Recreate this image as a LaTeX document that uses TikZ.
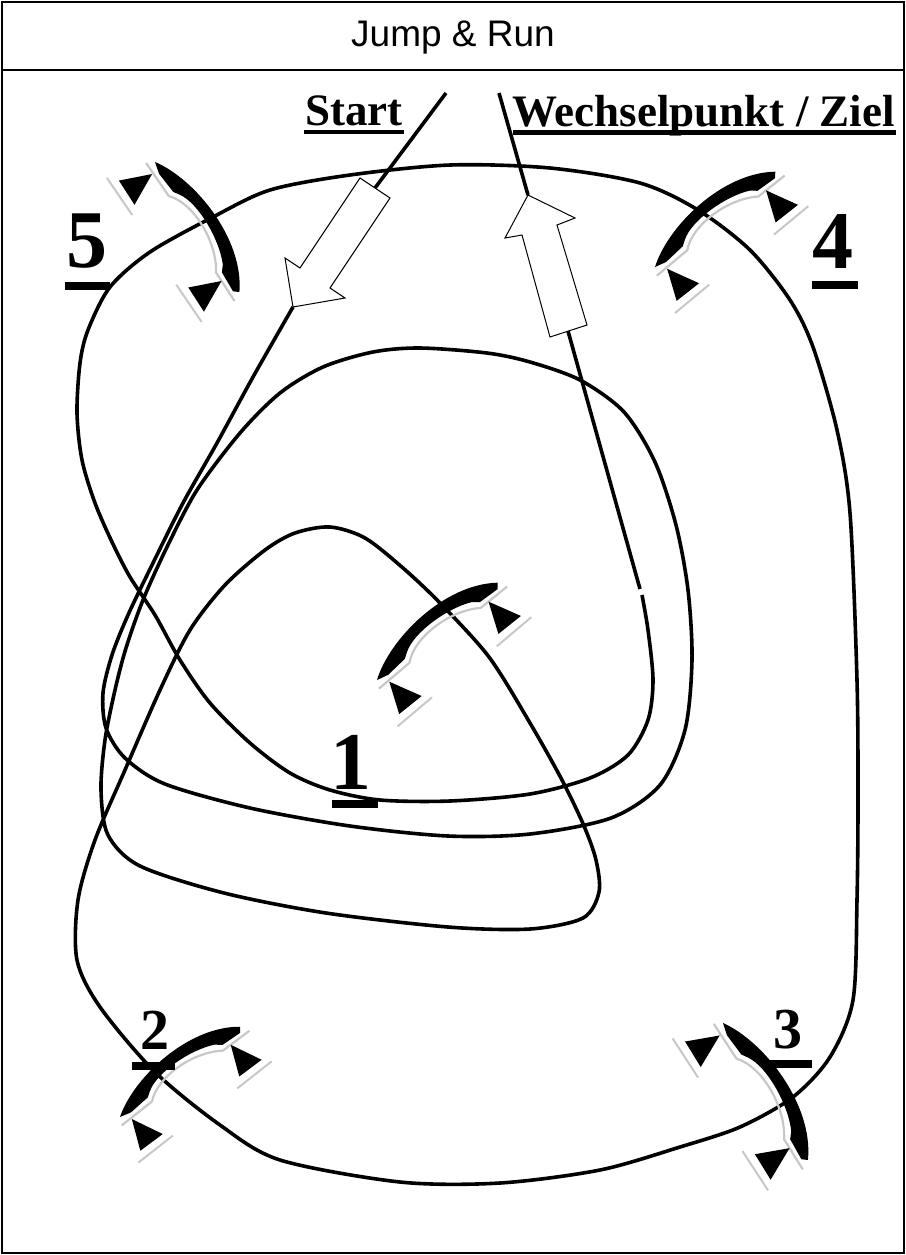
\documentclass[tikz,border=0pt]{standalone}
\usepackage{fontspec}
\setmainfont{Liberation Serif}
\newfontfamily\arialf{Liberation Sans}
\definecolor{shadowgray}{RGB}{200,200,200}
\newcommand{\rampsym}{%
  \draw[draw=shadowgray, line width=1.1pt, line join=round] (-4,8) -- (36,7) .. controls (55,-10) and (100,-9) .. (126,9) -- (160,9);
  \fill[black] (0,0) .. controls (35,-24) and (112,-33) .. (155,0) -- (151,5) -- (129,4) -- (123,-1) .. controls (100,-12) and (58,-14) .. (41,-3) -- (35,1) -- (12,3) -- cycle;
  \foreach \s in {0,127.5}{%
    \begin{scope}[shift={(\s,0)}]
      \draw[draw=shadowgray, line width=1pt] (-13,49) -- (32,48);
      \fill[black] (8.5,9) -- (24.7,40.5) -- (-4.1,40.4) -- cycle;
    \end{scope}}%
}
\begin{document}
\begin{tikzpicture}[x=0.5pt,y=-0.5pt,
  route/.style={line width=1.8pt, line join=round, line cap=butt},
  hollow/.style={draw, line width=0.5pt, fill=white, line join=miter},
  bigdigit/.style={inner sep=0pt, font=\fontsize{41}{41}\selectfont\bfseries},
  smalldigit/.style={inner sep=0pt, font=\fontsize{29}{29}\selectfont\bfseries},
  lbltext/.style={inner sep=0pt, anchor=base west, font=\fontsize{22.5}{22.5}\selectfont\bfseries}]
\useasboundingbox (0,0) rectangle (906,1255);
\fill[white] (0,0) rectangle (906,1255);
\draw[line width=1.2pt] (2,2) rectangle (904,1253);
\draw[line width=1.2pt] (2,70) -- (904,70);
\node (title) at (453,38) {\arialf\fontsize{18.5}{18.5}\selectfont Jump \& Run};

% route
\draw[route] (446,93) -- (375,188);
\draw[route] plot[smooth, tension=0.5] coordinates {
(293,307) (253,377) (217,443) (183,503) (153,563) (128,615) (112,655) (103,693) (106,728) (125,758) (165,784) (250,808) (350,826) (448,836) (530,834) (611,818) (660,785) (685,730) (692,660) (688,590) (676,525) (655,462) (624,412) (580,380) (530,362) (487,353) (420,348) (373,352) (323,367) (280,393) (240,433) (197,490) (167,547) (143,600) (126,648) (115,690) (105,740) (101,790) (108,835) (140,866) (224,893) (326,913) (448,927) (530,929) (583,918) (599,892) (596,860) (584,826) (562,780) (530,723) (489,657) (440,603) (403,568) (365,538) (330,527) (295,533) (265,550) (225,585) (190,630) (160,690) (125,770) (95,840) (78,900) (77,960) (100,1007) (155,1072) (220,1125) (280,1160) (400,1182) (500,1183) (600,1170) (680,1147) (740,1127) (793,1097) (830,1057) (853,1000) (857,900) (858,800) (857,680) (850,513) (837,430) (813,347) (790,300) (750,250) (698,210) (640,183) (550,168) (450,165) (350,175) (270,190) (213,217) (150,252) (110,287) (88,330) (80,363) (77,413) (82,460) (95,503) (112,542) (130,577) (155,615) (180,660) (210,703) (250,743) (290,773) (330,790) (380,800) (450,801) (530,794) (590,778) (628,755) (648,720) (653,680) (648,630) (642,595)};
\draw[route] (640,589) -- (568,331);
\draw[route] (528,195) -- (499,93);

% hollow arrows
\draw[hollow] (360,178) -- (390,198) -- (330,288) -- (345,298) -- (293,307) -- (285,258) -- (300,268) -- cycle;
\draw[hollow] (550,337) -- (587,325) -- (557,225) -- (575,218) -- (528,195) -- (505,238) -- (522,235) -- cycle;

% labels
\node[lbltext] (start) at (305,125) {Start};
\fill (304,130) rectangle (404,134);
\node[lbltext] (ziel) at (512,126) {Wechselpunkt / Ziel};
\fill (513,130) rectangle (896,135);

% ramp symbols
\begin{scope}[shift={(377,680)}, rotate=38.9]\rampsym\end{scope}
\begin{scope}[shift={(655,267)}, rotate=38.4, scale=0.99]\rampsym\end{scope}
\begin{scope}[shift={(120,1117)}, rotate=36.9, scale=0.97]\rampsym\end{scope}
\begin{scope}[shift={(155,162)}, rotate=-57, scale=1.0]\rampsym\end{scope}
\begin{scope}[shift={(723,1023)}, rotate=-58.2, scale=1.04]\rampsym\end{scope}

% digits
\node[bigdigit] (n5) at (87.5,241) {5}; \fill (65,282) rectangle (110,290);
\node[bigdigit] (n4) at (833,242) {4}; \fill (812,281) rectangle (858,289);
\node[bigdigit] (n1) at (351,762) {1}; \fill (332,800) rectangle (378,808);
\node[smalldigit] (n2) at (155,1030) {2}; \fill (132,1062) rectangle (175,1070);
\node[smalldigit] (n3) at (788,1030) {3}; \fill (766,1060) rectangle (812,1068);
\end{tikzpicture}
\end{document}
